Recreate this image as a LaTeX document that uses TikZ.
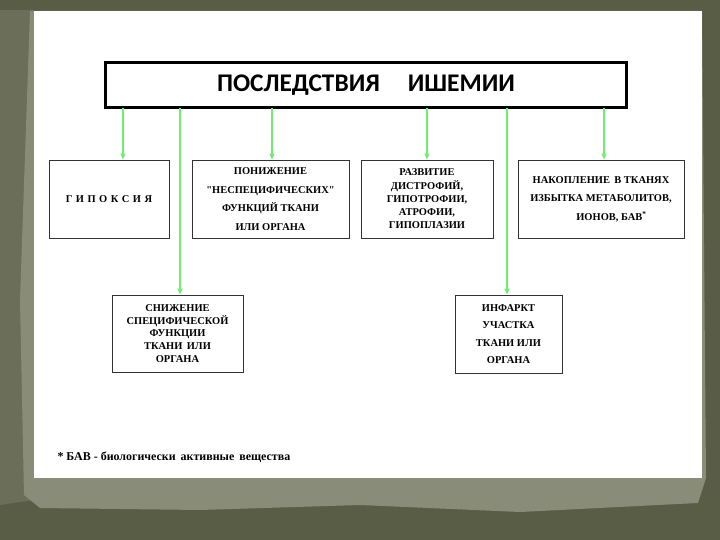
\documentclass[tikz,border=0pt]{standalone}
\usepackage{fontspec}
\setmainfont{Liberation Serif}[Ligatures=TeXOff]
\newfontfamily\titlefont{Carlito}
\usetikzlibrary{arrows.meta}
\definecolor{olive}{HTML}{5A5D46}
\definecolor{midolive}{HTML}{6B6E58}
\definecolor{paper}{HTML}{898C78}
\definecolor{arrgreen}{HTML}{72EC72}
\tikzset{
  box/.style={draw=black!80, line width=0.9bp, fill=white, align=center,
    inner sep=2bp, font=\bfseries\fontsize{10.5}{13}\selectfont},
  arr/.style={draw=arrgreen, line width=2bp, -{Triangle[length=6bp,width=5bp]}}
}
\begin{document}
\begin{tikzpicture}[x=1bp,y=-1bp]
% background
\fill[olive] (0,0) rectangle (720,540);
\fill[midolive] (0,10) -- (34,10) -- (34,500) -- (0,505) -- cycle;
\fill[paper] (30,11) -- (702,11) -- (706,478) -- (698,503) -- (520,512) -- (360,505)
  -- (200,510) -- (40,508) -- (24,495) -- (20,300) -- cycle;
\fill[white] (34,11) rectangle (702,478);
% title
\node[draw=black, line width=2.6bp, minimum width=521bp, minimum height=45bp,
  font=\titlefont\bfseries\fontsize{25.5}{27}\selectfont] (title) at (366,85)
  {ПОСЛЕДСТВИЯ\hspace{1.1em}ИШЕМИИ};
% boxes
\node[box, minimum width=120bp, minimum height=78bp] (hyp) at (109,199)
  {Г\,\,И\,\,П\,\,О\,\,К\,\,С\,\,И\,\,Я};
\node[box, minimum width=157bp, minimum height=78bp, font=\bfseries\fontsize{10.5}{18.5}\selectfont] (nons) at (270.5,199)
  {ПОНИЖЕНИЕ\\"НЕСПЕЦИФИЧЕСКИХ"\\ФУНКЦИЙ ТКАНИ\\ИЛИ ОРГАНА};
\node[box, minimum width=132bp, minimum height=78bp, font=\bfseries\fontsize{10.5}{13.3}\selectfont] (dys) at (427,199)
  {РАЗВИТИЕ\\ДИСТРОФИЙ,\\ГИПОТРОФИИ,\\АТРОФИИ,\\ГИПОПЛАЗИИ};
\node[box, minimum width=166bp, minimum height=78bp, font=\bfseries\fontsize{10.5}{18.5}\selectfont] (acc) at (601,199)
  {НАКОПЛЕНИЕ\, В ТКАНЯХ\\ИЗБЫТКА МЕТАБОЛИТОВ,\\\hspace*{2em}ИОНОВ, БАВ\textsuperscript{*}};
\node[box, minimum width=131bp, minimum height=77bp, font=\bfseries\fontsize{10.5}{12.8}\selectfont] (spec) at (177.5,333.5)
  {СНИЖЕНИЕ\\СПЕЦИФИЧЕСКОЙ\\ФУНКЦИИ\\ТКАНИ\, ИЛИ\\ОРГАНА};
\node[box, minimum width=107bp, minimum height=78bp, font=\bfseries\fontsize{10.5}{17.5}\selectfont] (inf) at (508.5,334)
  {ИНФАРКТ\\УЧАСТКА\\ТКАНИ ИЛИ\\ОРГАНА};
% arrows
\coordinate (a1) at (123,108);
\coordinate (a2) at (180,108);
\coordinate (a3) at (272,108);
\coordinate (a4) at (427,108);
\coordinate (a5) at (507,108);
\coordinate (a6) at (604,108);
\draw[arr] (a1) -- (a1 |- hyp.north);
\draw[arr] (a2) -- (a2 |- spec.north);
\draw[arr] (a3) -- (a3 |- nons.north);
\draw[arr] (a4) -- (a4 |- dys.north);
\draw[arr] (a5) -- (a5 |- inf.north);
\draw[arr] (a6) -- (a6 |- acc.north);
% footnote
\node[anchor=west, font=\bfseries\fontsize{12}{14}\selectfont] (note) at (54,457)
  {* БАВ - биологически\, активные\, вещества};
\end{tikzpicture}
\end{document}
